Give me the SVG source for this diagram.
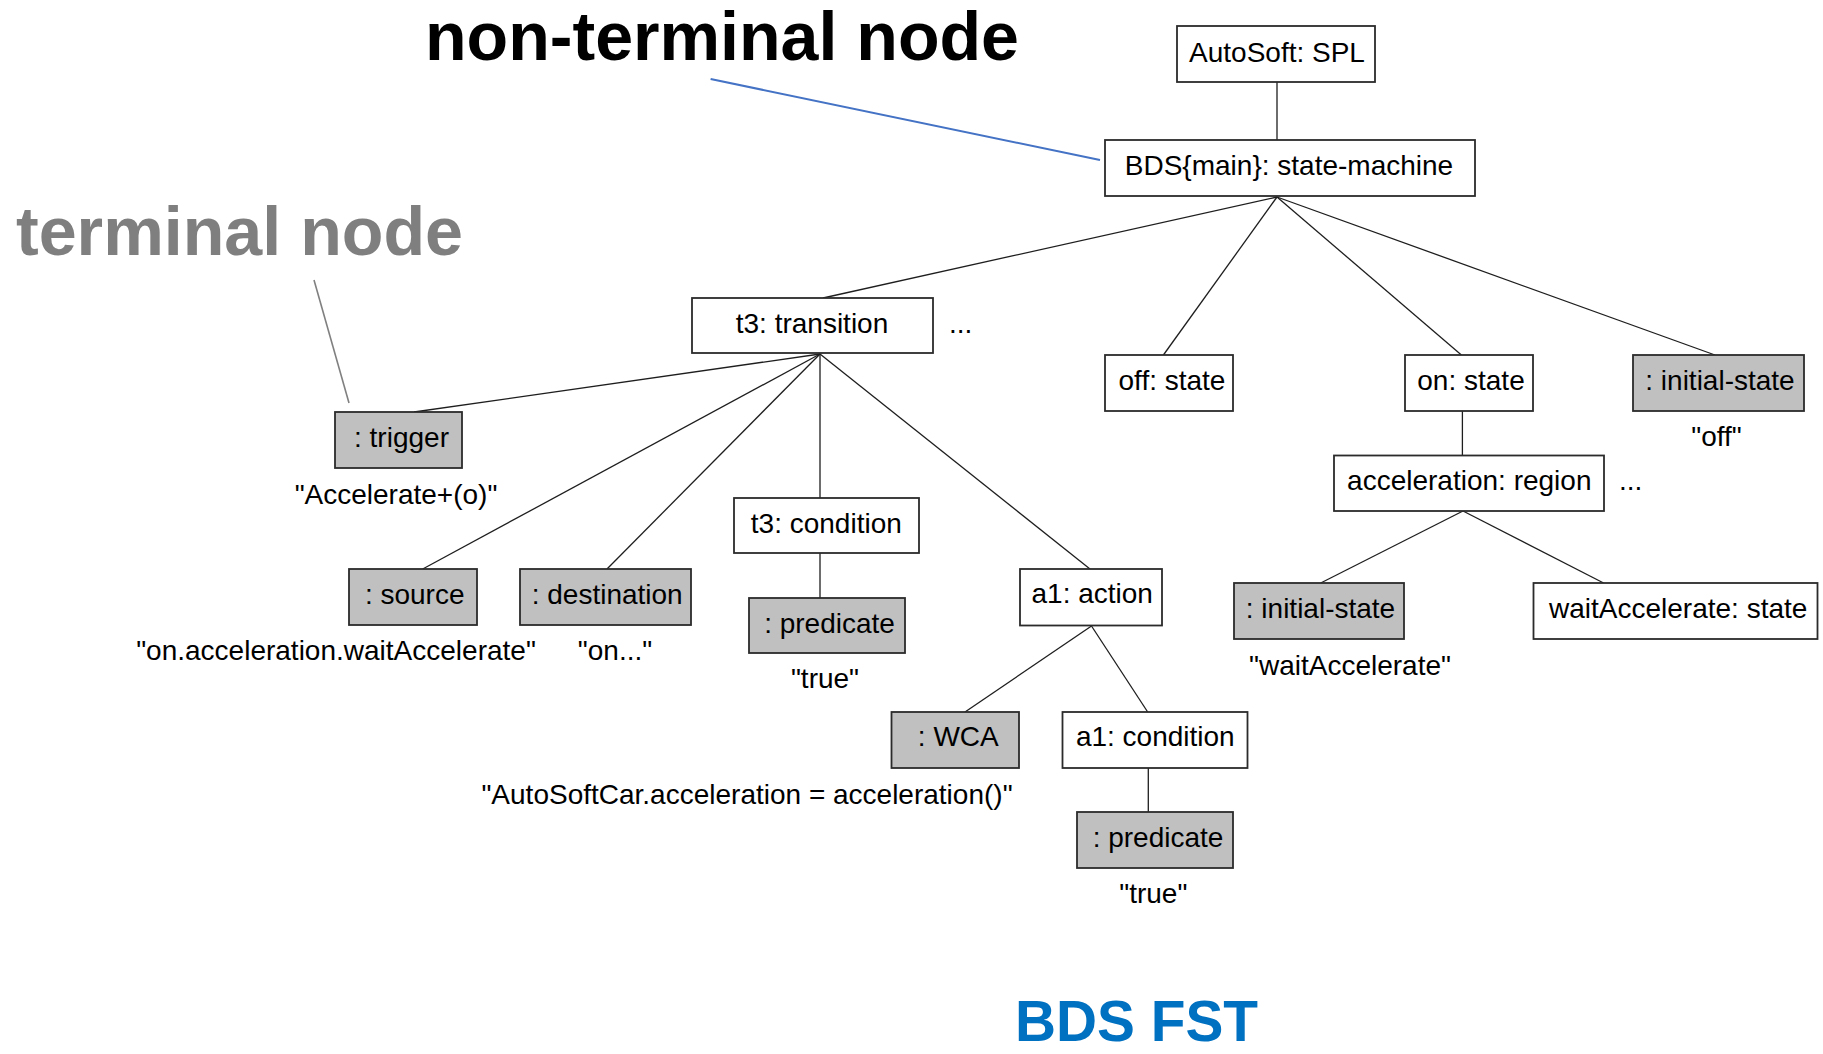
<svg xmlns="http://www.w3.org/2000/svg" width="1823" height="1054" viewBox="0 0 1823 1054">
  <style>
    .box { fill: #ffffff; stroke: #2b2b2b; stroke-width: 1.8; }
    .term { fill: #c0c0c0; stroke: #2b2b2b; stroke-width: 1.8; }
    .t { font-family: "Liberation Sans", Arial, sans-serif; font-size: 28px; fill: #000; text-anchor: middle; }
    .lbl { font-family: "Liberation Sans", Arial, sans-serif; font-size: 28px; fill: #000; text-anchor: middle; }
    .dots { font-family: "Liberation Sans", Arial, sans-serif; font-size: 28px; fill: #000; }
    .edge { stroke: #1e1e1e; stroke-width: 1.3; fill: none; }
    .head { font-family: "Liberation Sans", Arial, sans-serif; font-weight: bold; font-size: 68px; }
  </style>
  <rect x="0" y="0" width="1823" height="1054" fill="#ffffff"/>

  <!-- headings and pointers -->
  <g id="callouts">
    <text class="head" x="425" y="60" fill="#000000" textLength="594" lengthAdjust="spacingAndGlyphs">non-terminal node</text>
    <text class="head" x="16" y="255" fill="#7f7f7f" textLength="447" lengthAdjust="spacingAndGlyphs">terminal node</text>
    <line x1="710.6" y1="79" x2="1100" y2="160" stroke="#4472c4" stroke-width="2"/>
    <line x1="314" y1="280" x2="349" y2="403" stroke="#808080" stroke-width="1.6"/>
    <text x="1015" y="1041" font-family="Liberation Sans, Arial, sans-serif" font-weight="bold" font-size="58" fill="#0070c0" textLength="243" lengthAdjust="spacingAndGlyphs">BDS FST</text>
  </g>

  <!-- tree edges -->
  <g id="connectors">
    <line class="edge" x1="1277" y1="82" x2="1277" y2="140"/>
    <line class="edge" x1="1277" y1="197" x2="823" y2="298"/>
    <line class="edge" x1="1277" y1="197" x2="1163.4" y2="355"/>
    <line class="edge" x1="1277" y1="197" x2="1461.4" y2="355"/>
    <line class="edge" x1="1277" y1="197" x2="1715" y2="355"/>
    <line class="edge" x1="820" y1="354" x2="414" y2="412"/>
    <line class="edge" x1="820" y1="354" x2="422.7" y2="569"/>
    <line class="edge" x1="820" y1="354" x2="607" y2="569"/>
    <line class="edge" x1="820" y1="354" x2="820" y2="498"/>
    <line class="edge" x1="820" y1="354" x2="1090" y2="569"/>
    <line class="edge" x1="820" y1="553" x2="820" y2="598"/>
    <line class="edge" x1="1462.4" y1="411" x2="1462.4" y2="455.5"/>
    <line class="edge" x1="1463" y1="511" x2="1320.7" y2="583"/>
    <line class="edge" x1="1463" y1="511" x2="1603.6" y2="583"/>
    <line class="edge" x1="1091.5" y1="626" x2="965" y2="712"/>
    <line class="edge" x1="1091.5" y1="626" x2="1147.7" y2="712"/>
    <line class="edge" x1="1148.3" y1="768" x2="1148.3" y2="812"/>
  </g>

  <g id="n-autosoft">
    <rect class="box" x="1177" y="26" width="198" height="56"/>
    <text class="t" x="1277" y="61.5">AutoSoft: SPL</text>
  </g>
  <g id="n-bds">
    <rect class="box" x="1105" y="140" width="370" height="56"/>
    <text class="t" x="1289" y="175">BDS{main}: state-machine</text>
  </g>
  <g id="n-t3-transition">
    <rect class="box" x="692" y="298" width="241" height="55"/>
    <text class="t" x="812" y="333">t3: transition</text>
    <text class="dots" x="949" y="333">...</text>
  </g>
  <g id="n-off-state">
    <rect class="box" x="1105" y="355" width="128" height="56"/>
    <text class="t" x="1172" y="390">off: state</text>
  </g>
  <g id="n-on-state">
    <rect class="box" x="1405" y="355" width="128" height="56"/>
    <text class="t" x="1471" y="390">on: state</text>
  </g>
  <g id="n-initial-state-top">
    <rect class="term" x="1633" y="355" width="171" height="56"/>
    <text class="t" x="1720" y="390">: initial-state</text>
    <text class="lbl" x="1716.5" y="446">"off"</text>
  </g>
  <g id="n-trigger">
    <rect class="term" x="335" y="412" width="127" height="56"/>
    <text class="t" x="401.5" y="446.7">: trigger</text>
    <text class="lbl" x="396" y="503.5">"Accelerate+(o)"</text>
  </g>
  <g id="n-acceleration-region">
    <rect class="box" x="1334" y="455.5" width="270" height="55.5"/>
    <text class="t" x="1469.3" y="490">acceleration: region</text>
    <text class="dots" x="1619" y="490">...</text>
  </g>
  <g id="n-t3-condition">
    <rect class="box" x="734" y="498" width="185" height="55"/>
    <text class="t" x="826.3" y="532.7">t3: condition</text>
  </g>
  <g id="n-source">
    <rect class="term" x="349" y="569" width="128" height="56"/>
    <text class="t" x="414.7" y="604">: source</text>
    <text class="lbl" x="336" y="660">"on.acceleration.waitAccelerate"</text>
  </g>
  <g id="n-destination">
    <rect class="term" x="520" y="569" width="171" height="56"/>
    <text class="t" x="607.2" y="603.5">: destination</text>
    <text class="lbl" x="615" y="660">"on..."</text>
  </g>
  <g id="n-a1-action">
    <rect class="box" x="1020" y="569" width="142" height="56.5"/>
    <text class="t" x="1092.2" y="603.3">a1: action</text>
  </g>
  <g id="n-t3-predicate">
    <rect class="term" x="749" y="598" width="156" height="55"/>
    <text class="t" x="829.5" y="632.7">: predicate</text>
    <text class="lbl" x="825" y="688.3">"true"</text>
  </g>
  <g id="n-initial-state-region">
    <rect class="term" x="1234" y="583" width="170" height="56"/>
    <text class="t" x="1320.5" y="618.3">: initial-state</text>
    <text class="lbl" x="1350" y="675">"waitAccelerate"</text>
  </g>
  <g id="n-waitaccelerate-state">
    <rect class="box" x="1533.5" y="583" width="284" height="56"/>
    <text class="t" x="1678.2" y="618.3">waitAccelerate: state</text>
  </g>
  <g id="n-wca">
    <rect class="term" x="891.5" y="712" width="127.5" height="56"/>
    <text class="t" x="958.3" y="746">: WCA</text>
    <text class="lbl" x="747" y="804">"AutoSoftCar.acceleration = acceleration()"</text>
  </g>
  <g id="n-a1-condition">
    <rect class="box" x="1062.5" y="712" width="185" height="56"/>
    <text class="t" x="1155.3" y="746">a1: condition</text>
  </g>
  <g id="n-a1-predicate">
    <rect class="term" x="1077" y="812" width="156" height="56"/>
    <text class="t" x="1158" y="846.7">: predicate</text>
    <text class="lbl" x="1153.3" y="902.7">"true"</text>
  </g>
</svg>
